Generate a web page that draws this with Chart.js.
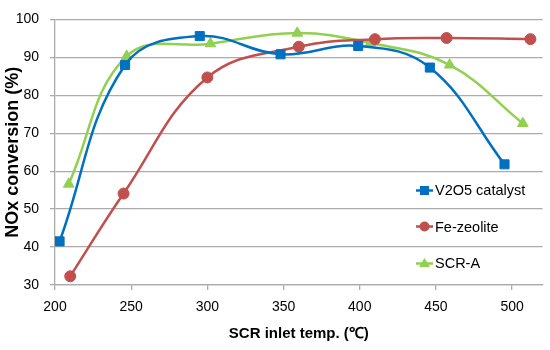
<!DOCTYPE html>
<html>
<head>
<meta charset="utf-8">
<script src="https://cdn.jsdelivr.net/npm/chart.js@4/dist/chart.umd.min.js"></script>
<style>
  html, body { margin: 0; padding: 0; background: #ffffff; }
  #wrap { position: relative; width: 550px; height: 350px; }
  #legend { position: absolute; left: 416px; top: 179px; font-family: "Liberation Sans", Arial, sans-serif; font-size: 14.5px; color: #000; }
  .item { display: flex; align-items: center; height: 22px; margin-bottom: 14.5px; white-space: nowrap; }
  .item svg { margin-right: 2px; }
</style>
</head>
<body>
<div id="wrap">
  <canvas id="c" width="550" height="350"></canvas>
  <div id="legend"></div>
</div>
<script>
// Data
const seriesNames = ["V2O5 catalyst", "Fe-zeolite", "SCR-A"];
const v2o5Temps  = [203, 246, 295, 348, 399, 446, 495];
const v2o5Values = [41.5, 88.0, 95.6, 90.8, 93.0, 87.3, 61.8];
const feTemps    = [210, 245, 300, 360, 410, 457, 512];
const feValues   = [32.3, 54.1, 84.7, 92.8, 94.8, 95.1, 94.8];
const scrTemps   = [209, 247, 302, 359, 407, 459, 507];
const scrValues  = [56.6, 90.3, 93.6, 96.4, 93.8, 88.0, 72.6];
const xTickValues = [200, 250, 300, 350, 400, 450, 500];
const yTickValues = [30, 40, 50, 60, 70, 80, 90, 100];

const colors = ["#0070C0", "#C0504D", "#92D050"];
const styles = ["rect", "circle", "triangle"];
const radii = [6.4, 5.5, 6.2];

function pts(xs, ys) { return xs.map((x, i) => ({ x: x, y: ys[i] })); }
const seriesData = [pts(v2o5Temps, v2o5Values), pts(feTemps, feValues), pts(scrTemps, scrValues)];

const datasets = seriesData.map((d, i) => ({
  label: seriesNames[i],
  data: d,
  borderColor: colors[i],
  backgroundColor: colors[i],
  borderWidth: 2.5,
  pointStyle: styles[i],
  pointRadius: radii[i],
  pointBackgroundColor: colors[i],
  pointBorderColor: colors[i],
  pointBorderWidth: 1,
  tension: 0.4,
  fill: false
}));

const gridGray = "#ababab";
const font = "'Liberation Sans', Arial, sans-serif";

new Chart(document.getElementById("c"), {
  type: "line",
  data: { datasets: datasets },
  options: {
    responsive: false,
    animation: false,
    layout: { padding: { top: 12, right: 7, left: 0, bottom: 0 } },
    plugins: { legend: { display: false }, tooltip: { enabled: false } },
    scales: {
      x: {
        type: "linear",
        min: 200, max: 520,
        afterBuildTicks: (s) => { s.ticks = xTickValues.map(v => ({ value: v })); },
        afterFit: (s) => { s.height = 65; },
        ticks: { includeBounds: false, padding: 9, color: "#000", font: { family: font, size: 14 }, maxRotation: 0 },
        grid: { drawOnChartArea: false, drawTicks: true, tickLength: 5, color: gridGray, lineWidth: 1.3 },
        border: { display: true, color: gridGray, width: 1.3 },
        title: { display: true, text: "SCR inlet temp. (℃)", color: "#000", font: { family: font, size: 15, weight: "bold" }, padding: { top: 0, bottom: 7 } }
      },
      y: {
        min: 30, max: 100,
        afterBuildTicks: (s) => { s.ticks = yTickValues.map(v => ({ value: v })); },
        afterFit: (s) => { s.width = 55; },
        ticks: { padding: 11, color: "#000", font: { family: font, size: 14 } },
        grid: { color: gridGray, lineWidth: 1.3, tickLength: 5 },
        border: { display: true, color: gridGray, width: 1.3 },
        title: { display: true, text: "NOx conversion (%)", color: "#000", font: { family: font, size: 18, weight: "bold" }, padding: { top: 2, bottom: 0 } }
      }
    }
  }
});

// HTML legend built from the series arrays
const legend = document.getElementById("legend");
seriesNames.forEach((name, i) => {
  const c = colors[i];
  let marker;
  if (styles[i] === "rect") marker = `<rect x="4" y="6" width="9" height="9" fill="${c}"/>`;
  else if (styles[i] === "circle") marker = `<circle cx="8.5" cy="10.5" r="5" fill="${c}"/>`;
  else marker = `<polygon points="8.5,5 14,14 3,14" fill="${c}"/>`;
  const div = document.createElement("div");
  div.className = "item";
  div.innerHTML = `<svg width="17" height="21"><line x1="0" y1="10.5" x2="17" y2="10.5" stroke="${c}" stroke-width="2.5"/>${marker}</svg><span>${name}</span>`;
  legend.appendChild(div);
});
</script>
</body>
</html>
